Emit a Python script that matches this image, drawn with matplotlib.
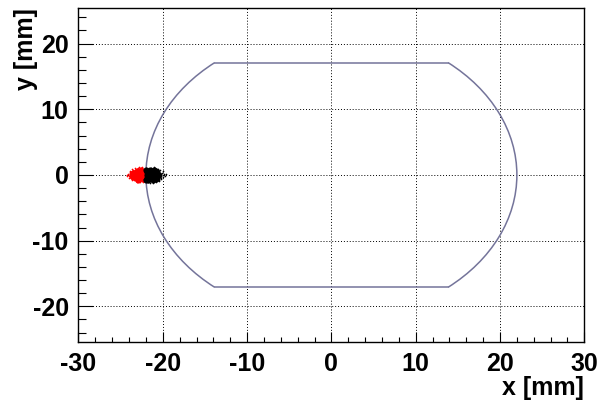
import numpy as np
import matplotlib
matplotlib.use('Agg')
import matplotlib.pyplot as plt
from matplotlib.patches import Arc

plt.rcParams['axes.unicode_minus'] = False
plt.rcParams['font.family'] = 'Liberation Sans'
plt.rcParams['font.weight'] = 'bold'

# aperture outline (mm)
radius = 22.0
flat_x = 13.8
flat_y = 17.05

# beam spot, red cloud (hand read)
red_core_x = [-23.4, -23.1, -22.8, -22.5, -22.2, -23.3, -23.0, -22.7, -22.4, -22.2,
              -23.2, -22.9, -22.6, -22.3, -23.6, -22.6, -22.9, -23.0, -22.4, -23.5,
              -23.5, -23.7]
red_core_y = [0.3, 0.4, 0.45, 0.45, 0.45, -0.05, 0.0, 0.0, 0.0, 0.0,
              -0.4, -0.45, -0.45, -0.45, 0.1, 0.7, -0.7, 0.65, -0.65, 0.35,
              -0.35, -0.1]
red_halo_x = [-24.1, -23.9, -23.8, -24.0, -23.7, -23.5, -23.6, -23.3, -23.2, -22.9,
              -22.6, -22.4, -23.4, -23.0, -22.7, -23.8, -24.2, -23.5, -23.1, -22.8,
              -24.3, -23.9, -24.0, -23.6, -23.3, -22.5]
red_halo_y = [0.1, 0.4, -0.3, -0.1, 0.6, 0.8, -0.7, 1.0, -0.9, 1.1,
              1.0, -1.0, -0.8, 0.9, -1.1, 0.2, -0.2, -0.5, -1.0, 1.2,
              0.0, 0.55, -0.45, 0.9, 0.75, 1.15]

# beam spot, black cloud (hand read)
blk_core_x = [-21.9, -21.6, -21.3, -21.0, -20.7, -21.9, -21.6, -21.3, -21.0, -20.7,
              -21.9, -21.6, -21.3, -21.0, -20.7, -20.4, -21.5, -21.1, -21.7, -21.2,
              -20.8, -20.8, -22.0, -22.0]
blk_core_y = [0.45, 0.5, 0.5, 0.45, 0.4, 0.0, 0.0, 0.0, 0.0, 0.0,
              -0.45, -0.5, -0.5, -0.45, -0.4, 0.05, 0.75, 0.75, -0.75, -0.75,
              0.65, -0.65, 0.7, -0.7]
blk_halo_x = [-20.1, -19.8, -20.0, -19.9, -20.3, -20.5, -20.2, -21.0, -21.4, -21.8,
              -20.8, -21.6, -22.1, -22.2, -20.6, -19.7, -21.2, -20.9, -22.0, -20.4,
              -19.6, -20.0, -20.2, -21.5, -21.1]
blk_halo_y = [0.3, 0.0, -0.3, 0.15, 0.7, -0.8, -0.6, 1.0, 1.1, -1.0,
              -1.0, 0.95, 0.6, -0.6, 0.9, -0.1, -1.15, 1.1, 1.0, -0.95,
              0.1, 0.55, -0.5, -1.2, 1.25]

outline_color = '#74749a'

fig = plt.figure(figsize=(5.99, 4.05), dpi=100)
ax = fig.add_axes([0.131, 0.156, 0.8445, 0.824])

ax.set_xlim(-30, 30)
ax.set_ylim(-25.4, 25.4)

# red spot
ax.scatter(red_halo_x, red_halo_y, s=1.5, color='red', linewidths=0, zorder=3)
ax.scatter(red_core_x, red_core_y, s=20, color='red', linewidths=0, zorder=3)

# aperture
ang = np.degrees(np.arctan2(flat_y, flat_x))
ax.add_patch(Arc((0, 0), 2 * radius, 2 * radius, theta1=-ang, theta2=ang,
                 color=outline_color, lw=1.1, zorder=4))
ax.add_patch(Arc((0, 0), 2 * radius, 2 * radius, theta1=180 - ang, theta2=180 + ang,
                 color=outline_color, lw=1.1, zorder=4))
ax.plot([-flat_x, flat_x], [flat_y, flat_y], color=outline_color, lw=1.1, zorder=4)
ax.plot([-flat_x, flat_x], [-flat_y, -flat_y], color=outline_color, lw=1.1, zorder=4)

# black spot
ax.scatter(blk_halo_x, blk_halo_y, s=1.5, color='black', linewidths=0, zorder=5)
ax.scatter(blk_core_x, blk_core_y, s=20, color='black', linewidths=0, zorder=5)

ax.xaxis.set_major_locator(plt.MultipleLocator(10))
ax.xaxis.set_minor_locator(plt.MultipleLocator(2))
ax.yaxis.set_major_locator(plt.MultipleLocator(10))
ax.yaxis.set_minor_locator(plt.MultipleLocator(2))
ax.grid(True, which='major', color='black', linestyle=(0, (1, 2)), linewidth=0.7)

ax.tick_params(axis='both', which='both', direction='in', top=False, right=False,
               width=0.8, labelsize=18)
ax.tick_params(axis='x', which='major', length=7.2, pad=7)
ax.tick_params(axis='x', which='minor', length=3.6)
ax.tick_params(axis='y', which='major', length=10.8, pad=7)
ax.tick_params(axis='y', which='minor', length=5.4)

for sp in ax.spines.values():
    sp.set_linewidth(1.0)

fig.text(584 / 599, 1 - 376 / 405, 'x [mm]', fontsize=18, fontweight='bold',
         ha='right', va='top')
fig.text(14 / 599, 1 - 8 / 405, 'y [mm]', fontsize=18, fontweight='bold',
         ha='left', va='top', rotation=90)

fig.savefig('out.png', dpi=100)
